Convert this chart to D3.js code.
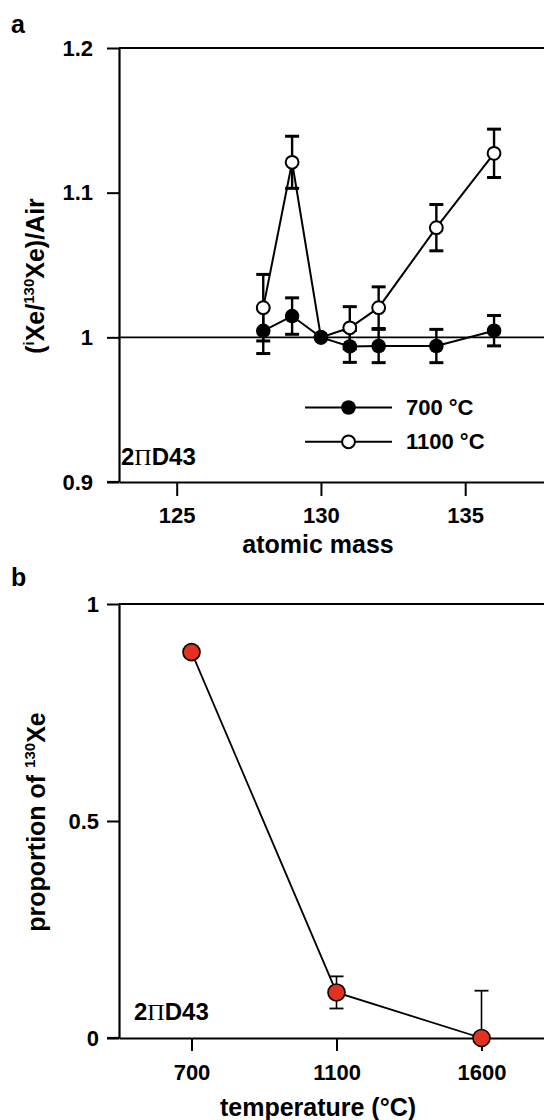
<!DOCTYPE html>
<html><head><meta charset="utf-8">
<script src="https://cdn.jsdelivr.net/npm/d3@7"></script>
<style>
html,body{margin:0;padding:0;background:#fff;}
svg{display:block;}
text{font-family:"Liberation Sans",Arial,Helvetica,sans-serif;font-weight:bold;fill:#000;}
</style></head>
<body>
<svg id="chart" width="544" height="1120"></svg>
<script>
// ---- Panel a data ----
const massA = [128, 129, 130, 131, 132, 134, 136];
const ratio700 = [1.0045, 1.0147, 1.000, 0.9937, 0.994, 0.994, 1.0046];
const err700 = [0.0157, 0.0126, 0, 0.011, 0.0115, 0.0115, 0.0105];
const ratio1100 = [1.0205, 1.121, 1.000, 1.0066, 1.0205, 1.0758, 1.1272];
const err1100 = [0.023, 0.018, 0, 0.0146, 0.0144, 0.016, 0.0167];
const xTicksA = [125, 130, 135];
const yTicksA = [0.9, 1, 1.1, 1.2];
const legendA = ["700 °C", "1100 °C"];

// ---- Panel b data ----
const tempsB = ["700", "1100", "1600"];
const propB = [0.889, 0.105, 0.0];
const errB = [0.0, 0.037, 0.109];
const yTicksB = [0, 0.5, 1];

const svg = d3.select("#chart");
svg.append("rect").attr("width", 544).attr("height", 1120).attr("fill", "#fff");

// ================= Panel a =================
const xA = d3.scaleLinear().domain([123, 139]).range([119, 580.6]);
const yA = d3.scaleLinear().domain([0.9, 1.2]).range([482, 48]);
const gA = svg.append("g");

gA.append("text").attr("x", 11).attr("y", 33).attr("font-size", 25).text("a");

gA.append("line").attr("x1", xA.range()[0]).attr("x2", xA.range()[1])
  .attr("y1", yA(1.2)).attr("y2", yA(1.2)).attr("stroke", "#000").attr("stroke-width", 2);
gA.append("line").attr("x1", xA.range()[0]).attr("x2", xA.range()[1])
  .attr("y1", yA(1)).attr("y2", yA(1)).attr("stroke", "#000").attr("stroke-width", 1.8);

const axYA = gA.append("g").attr("transform", `translate(${xA.range()[0]},0)`)
  .call(d3.axisLeft(yA).tickValues(yTicksA).tickFormat(d => String(d))
    .tickSize(12).tickSizeOuter(0).tickPadding(14));
const axXA = gA.append("g").attr("transform", `translate(0,${yA(0.9)})`)
  .call(d3.axisBottom(xA).tickValues(xTicksA).tickFormat(d => String(d))
    .tickSize(14).tickSizeOuter(0).tickPadding(11));
[axYA, axXA].forEach(ax => {
  ax.select(".domain").attr("stroke", "#000").attr("stroke-width", 2.2);
  ax.selectAll(".tick line").attr("stroke", "#000").attr("stroke-width", 2);
  ax.selectAll(".tick text").attr("font-size", 22).attr("font-family", "Liberation Sans, Arial, sans-serif")
    .attr("font-weight", "bold").attr("fill", "#000");
});
gA.append("line").attr("x1", xA.range()[0] - 12).attr("x2", xA.range()[0])
  .attr("y1", yA(0.9)).attr("y2", yA(0.9)).attr("stroke", "#000").attr("stroke-width", 2.2);

gA.append("text").attr("x", 318).attr("y", 553).attr("text-anchor", "middle")
  .attr("font-size", 25).text("atomic mass");
const ytA = gA.append("text").attr("transform", "translate(44,276) rotate(-90)")
  .attr("text-anchor", "middle").attr("font-size", 25);
ytA.append("tspan").text("(");
ytA.append("tspan").attr("font-size", 15).attr("dy", -10).text("i");
ytA.append("tspan").attr("dy", 10).text("Xe/");
ytA.append("tspan").attr("font-size", 15).attr("dy", -10).text("130");
ytA.append("tspan").attr("dy", 10).text("Xe)/Air");

const sA = gA.append("text").attr("x", 121).attr("y", 465).attr("font-size", 24);
sA.append("tspan").text("2");
sA.append("tspan").attr("font-family", "Liberation Serif, Times New Roman, serif").attr("font-weight", "normal").text("Π");
sA.append("tspan").text("D43");

function errBars(g, xs, ys, es, xS, yS, capW, capSW, stemSW) {
  xs.forEach((m, i) => {
    if (es[i] <= 0) return;
    const x = xS(m);
    const yu = yS(ys[i] + es[i]), yl = yS(ys[i] - es[i]);
    g.append("line").attr("x1", x).attr("x2", x).attr("y1", yu).attr("y2", yl)
      .attr("stroke", "#000").attr("stroke-width", stemSW);
    [yu, yl].forEach(yy => g.append("line").attr("x1", x - capW / 2).attr("x2", x + capW / 2)
      .attr("y1", yy).attr("y2", yy).attr("stroke", "#000").attr("stroke-width", capSW));
  });
}
errBars(gA, massA, ratio700, err700, xA, yA, 14, 3, 2.4);
errBars(gA, massA, ratio1100, err1100, xA, yA, 14, 3, 2.4);

const lineA = d3.line().x(d => xA(d[0])).y(d => yA(d[1]));
gA.append("path").attr("d", lineA(massA.map((m, i) => [m, ratio1100[i]])))
  .attr("fill", "none").attr("stroke", "#000").attr("stroke-width", 2);
gA.append("path").attr("d", lineA(massA.map((m, i) => [m, ratio700[i]])))
  .attr("fill", "none").attr("stroke", "#000").attr("stroke-width", 2);

gA.selectAll("circle.o").data(massA.map((m, i) => [m, ratio1100[i]])).enter().append("circle")
  .attr("cx", d => xA(d[0])).attr("cy", d => yA(d[1])).attr("r", 6.4)
  .attr("fill", "#fff").attr("stroke", "#000").attr("stroke-width", 2);
gA.selectAll("circle.f").data(massA.map((m, i) => [m, ratio700[i]])).enter().append("circle")
  .attr("cx", d => xA(d[0])).attr("cy", d => yA(d[1])).attr("r", 7.3)
  .attr("fill", "#000");

legendA.forEach((lab, i) => {
  const ly = 407.5 + i * 34.3;
  gA.append("line").attr("x1", 305).attr("x2", 392).attr("y1", ly).attr("y2", ly)
    .attr("stroke", "#000").attr("stroke-width", 2);
  const c = gA.append("circle").attr("cx", 348.5).attr("cy", ly);
  if (i === 0) c.attr("r", 7.3).attr("fill", "#000");
  else c.attr("r", 6.4).attr("fill", "#fff").attr("stroke", "#000").attr("stroke-width", 2);
  gA.append("text").attr("x", 406).attr("y", ly + 7.5).attr("font-size", 22).text(lab);
});

// ================= Panel b =================
const xB = d3.scalePoint().domain(tempsB).range([119, 554]).padding(0.5);
const yB = d3.scaleLinear().domain([0, 1]).range([1038, 604]);
const gB = svg.append("g");

gB.append("text").attr("x", 11).attr("y", 586).attr("font-size", 25).text("b");

gB.append("line").attr("x1", xB.range()[0]).attr("x2", xB.range()[1])
  .attr("y1", yB(1)).attr("y2", yB(1)).attr("stroke", "#000").attr("stroke-width", 2);

const axYB = gB.append("g").attr("transform", `translate(${xB.range()[0]},0)`)
  .call(d3.axisLeft(yB).tickValues(yTicksB).tickFormat(d => String(d))
    .tickSize(12).tickSizeOuter(0).tickPadding(8));
const axXB = gB.append("g").attr("transform", `translate(0,${yB(0)})`)
  .call(d3.axisBottom(xB).tickSize(13).tickSizeOuter(0).tickPadding(13));
[axYB, axXB].forEach(ax => {
  ax.select(".domain").attr("stroke", "#000").attr("stroke-width", 2.2);
  ax.selectAll(".tick line").attr("stroke", "#000").attr("stroke-width", 2);
  ax.selectAll(".tick text").attr("font-size", 22).attr("font-family", "Liberation Sans, Arial, sans-serif")
    .attr("font-weight", "bold").attr("fill", "#000");
});
gB.append("line").attr("x1", xB.range()[0] - 12).attr("x2", xB.range()[0])
  .attr("y1", yB(0)).attr("y2", yB(0)).attr("stroke", "#000").attr("stroke-width", 2.2);

gB.append("text").attr("x", 318).attr("y", 1116).attr("text-anchor", "middle")
  .attr("font-size", 25).text("temperature (°C)");
const ytB = gB.append("text").attr("transform", "translate(45,822) rotate(-90)")
  .attr("text-anchor", "middle").attr("font-size", 25);
ytB.append("tspan").text("proportion of ");
ytB.append("tspan").attr("font-size", 15).attr("dy", -10).text("130");
ytB.append("tspan").attr("dy", 10).text("Xe");

const sB = gB.append("text").attr("x", 134).attr("y", 1020).attr("font-size", 24);
sB.append("tspan").text("2");
sB.append("tspan").attr("font-family", "Liberation Serif, Times New Roman, serif").attr("font-weight", "normal").text("Π");
sB.append("tspan").text("D43");

tempsB.forEach((t, i) => {
  if (errB[i] <= 0) return;
  const x = xB(t);
  const up = propB[i] + errB[i], lo = propB[i] - errB[i];
  const y0 = lo >= 0 ? yB(lo) : yB(propB[i]);
  gB.append("line").attr("x1", x).attr("x2", x).attr("y1", yB(up)).attr("y2", y0)
    .attr("stroke", "#000").attr("stroke-width", 1.6);
  gB.append("line").attr("x1", x - 7).attr("x2", x + 7).attr("y1", yB(up)).attr("y2", yB(up))
    .attr("stroke", "#000").attr("stroke-width", 1.8);
  if (lo >= 0) gB.append("line").attr("x1", x - 7).attr("x2", x + 7).attr("y1", yB(lo)).attr("y2", yB(lo))
    .attr("stroke", "#000").attr("stroke-width", 1.8);
});

gB.append("path").attr("d", d3.line().x((d, i) => xB(tempsB[i])).y(d => yB(d))(propB))
  .attr("fill", "none").attr("stroke", "#000").attr("stroke-width", 1.8);
gB.selectAll("circle.r").data(propB).enter().append("circle")
  .attr("cx", (d, i) => xB(tempsB[i])).attr("cy", d => yB(d)).attr("r", 8.5)
  .attr("fill", "#e2311f").attr("stroke", "#000").attr("stroke-width", 1.6);
</script>
</body></html>
